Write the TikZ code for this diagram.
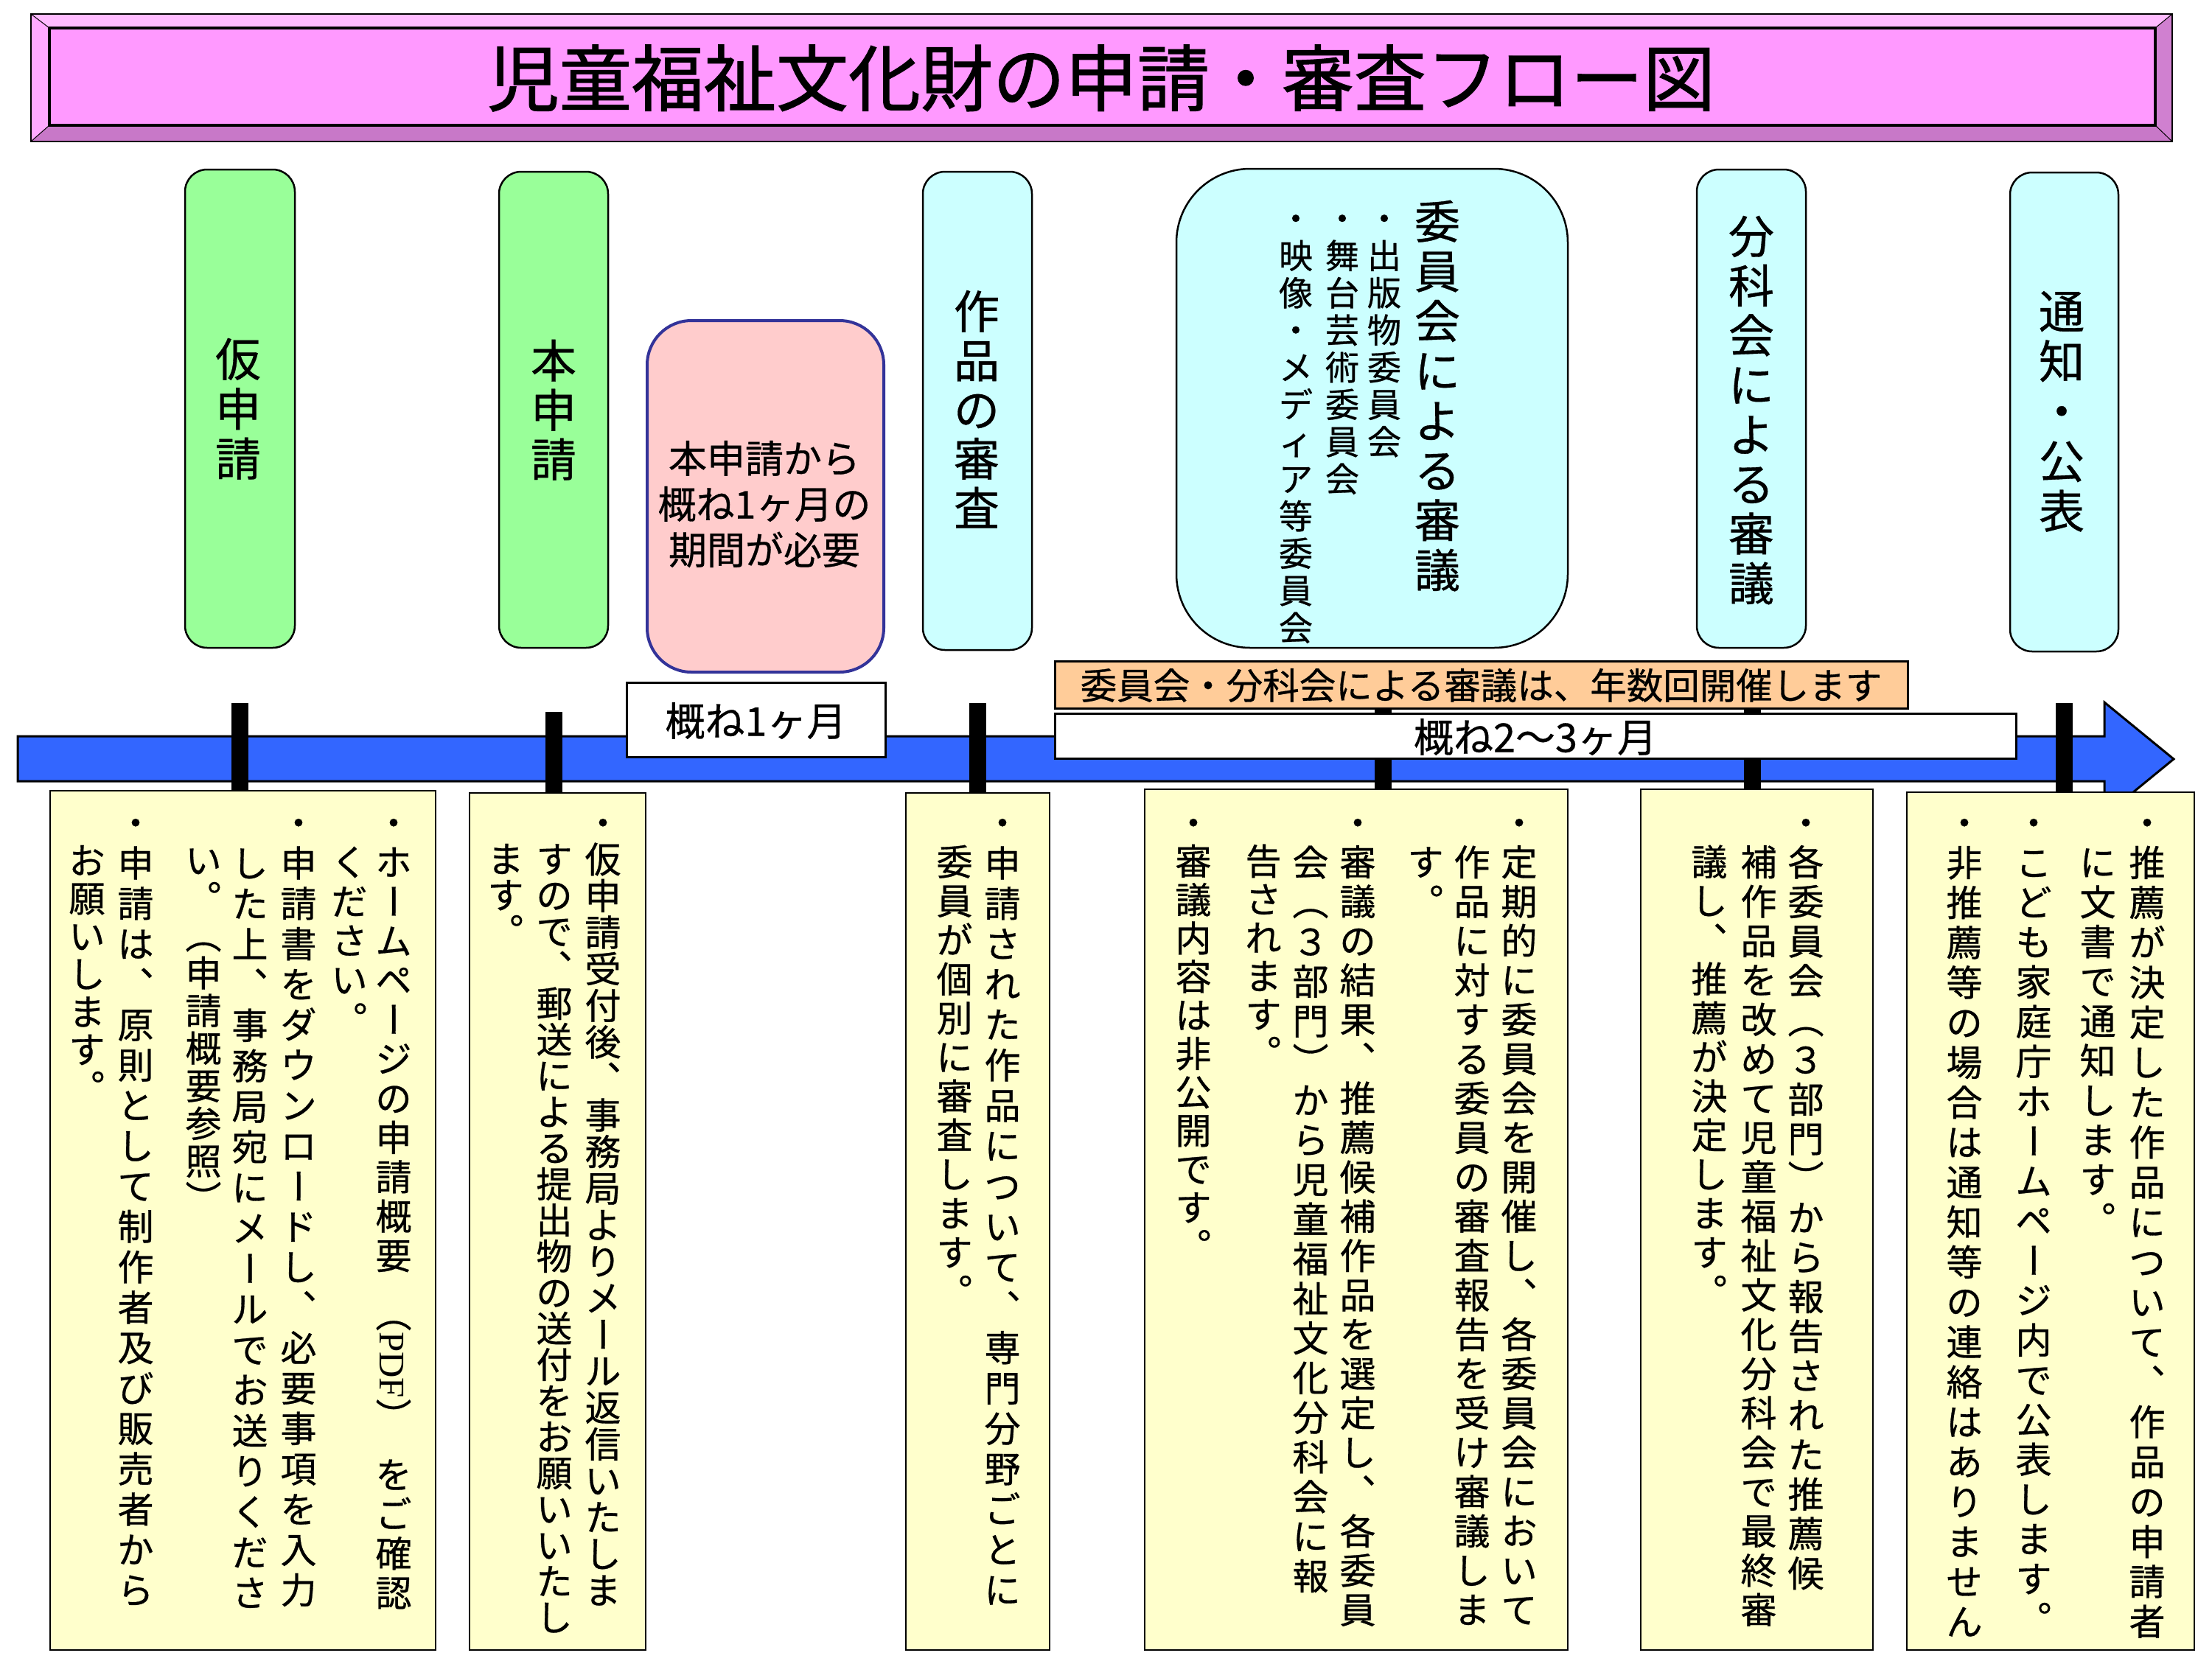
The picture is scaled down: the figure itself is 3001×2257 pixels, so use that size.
\documentclass[tikz,border=0pt]{standalone}
\usepackage{fontspec}
\usepackage{graphicx}
\setmainfont{Noto Sans CJK JP}[FakeBold=0.6]
\newfontfamily\jpt{Noto Sans CJK JP}[FakeBold=1.2]
\newfontfamily\pdff{Liberation Serif}

\definecolor{ctitle}{HTML}{FF99FF}
\definecolor{ctop}{HTML}{FFBBFF}
\definecolor{cleft}{HTML}{FFAAFF}
\definecolor{cright}{HTML}{D080D0}
\definecolor{cbot}{HTML}{C878C8}
\definecolor{cgreen}{HTML}{99FF99}
\definecolor{ccyan}{HTML}{CCFFFF}
\definecolor{cpink}{HTML}{FFCCCC}
\definecolor{cnavy}{HTML}{333399}
\definecolor{cyellow}{HTML}{FFFFCC}
\definecolor{corange}{HTML}{FFCC99}
\definecolor{cblue}{HTML}{3366FF}

\newcommand\vtstrut{\vrule height .88em depth .12em width 0pt}
\newcommand\VL{\rotatebox[origin=c]{-90}{\vtstrut ー}}
\newcommand\VO{\rotatebox[origin=c]{-90}{\vtstrut （}}
\newcommand\VC{\rotatebox[origin=c]{-90}{\vtstrut ）}}
\newcommand\Vc{︑}
\newcommand\Vp{︒}
\newcommand\vb{}
\newcommand\PDFrot{\rotatebox[origin=c]{-90}{\kern 28pt\vtstrut （{\pdff PDF}）\kern 28pt}}

\ExplSyntaxOn
\dim_new:N \l_vt_pitch_dim
\dim_new:N \l_vt_cell_dim
\box_new:N \l_vt_item_box
\cs_new_protected:Npn \vcol #1 #2
  {
    \dim_set:Nn \l_vt_pitch_dim {#1}
    \vbox:n
      {
        \offinterlineskip
        \tl_map_inline:nn {#2}
          {
            \hbox_set:Nn \l_vt_item_box { \vtstrut ##1 }
            \dim_set:Nn \l_vt_cell_dim { \box_ht:N \l_vt_item_box + \box_dp:N \l_vt_item_box }
            \dim_compare:nNnT { \l_vt_cell_dim } < { \l_vt_pitch_dim }
              { \dim_set_eq:NN \l_vt_cell_dim \l_vt_pitch_dim }
            \hbox_to_wd:nn { 1em }
              {
                \hss
                \vbox_to_ht:nn { \l_vt_cell_dim } { \vss \box_use:N \l_vt_item_box \vss }
                \hss
              }
          }
      }
  }
\ExplSyntaxOff

\tikzset{
  vbody/.style={inner sep=0pt, font=\fontsize{49}{55}\selectfont},
  vbig/.style={inner sep=0pt, font=\fontsize{62}{70}\selectfont},
  vsmall/.style={inner sep=0pt, font=\fontsize{46}{52}\selectfont},
  topbox/.style={draw=black, line width=2.5pt, rounded corners=30pt, inner sep=0pt},
  notebox/.style={draw=black, line width=2.5pt, fill=cyellow, inner sep=0pt},
  tlbox/.style={draw=black, line width=3pt, inner sep=0pt},
  tick/.style={fill=black}
}
\newcommand\vnode[6][vbody]{\node[#1,anchor=north] (#2) at (#3,{#4-#5/2}) {\vcol{#5pt}{#6}};}

\begin{document}
\begin{tikzpicture}[x=1pt,y=-1pt]
\useasboundingbox (0,0) rectangle (3001,2257);
\fill[white] (0,0) rectangle (3001,2257);

% ---------- title banner ----------
\fill[ctitle] (42,19) rectangle (2947,192);
\fill[ctop] (42,19) -- (2947,19) -- (2924,38) -- (67,38) -- cycle;
\fill[cbot] (42,192) -- (2947,192) -- (2924,170) -- (67,170) -- cycle;
\fill[cleft] (42,19) -- (67,38) -- (67,170) -- (42,192) -- cycle;
\fill[cright] (2947,19) -- (2924,38) -- (2924,170) -- (2947,192) -- cycle;
\draw[line width=1pt] (42,19) -- (67,38) (2947,19) -- (2924,38) (42,192) -- (67,170) (2947,192) -- (2924,170);
\draw[line width=3.5pt] (67,38) rectangle (2924,170);
\draw[line width=2.5pt] (42,19) rectangle (2947,192);
\node[inner sep=0pt, font=\jpt\fontsize{98}{100}\selectfont] (title) at (1494,106) {児童福祉文化財の申請・審査フロー図};

% ---------- upper stage boxes ----------
\node[topbox, fill=cgreen, minimum width=149pt, minimum height=649pt] (kari) at (325.5,554.5) {};
\node[topbox, fill=cgreen, minimum width=148pt, minimum height=646pt] (hon) at (751,556) {};
\node[draw=cnavy, line width=4pt, fill=cpink, rounded corners=60pt, minimum width=321pt, minimum height=477pt, inner sep=0pt] (wait) at (1038.5,673.5) {};
\node[topbox, fill=ccyan, minimum width=148pt, minimum height=649pt] (saku) at (1326,557.5) {};
\node[topbox, fill=ccyan, rounded corners=100pt, minimum width=531pt, minimum height=650pt] (iin) at (1861.5,554) {};
\node[topbox, fill=ccyan, minimum width=148pt, minimum height=649pt] (bun) at (2376,554.5) {};
\node[topbox, fill=ccyan, minimum width=147pt, minimum height=650pt] (tsu) at (2800.5,559) {};

\vnode[vbig]{kariT}{323}{487}{67.5}{仮申請}
\vnode[vbig]{honT}{751}{489}{67}{本申請}
\node[inner sep=0pt, align=center, font=\fontsize{52}{62}\selectfont] (waitT) at (1037,684) {本申請から\\概ね1ヶ月の\\期間が必要};
\vnode[vbig]{sakuT}{1325}{422}{66.75}{作品の審査}
\vnode[vbig]{iinT}{1950}{300}{67.6}{委員会による審議}
\vnode[vsmall]{sub1}{1878}{296}{50.5}{・出版物委員会}
\vnode[vsmall]{sub2}{1821}{296}{50.5}{・舞台芸術委員会}
\vnode[vsmall]{sub3}{1758}{296}{50.5}{・映像・メディア等委員会}
\vnode[vbig]{bunT}{2376}{320}{67.3}{分科会による審議}
\vnode[vbig]{tsuT}{2797}{422}{67.75}{通知・公表}

% ---------- time line ----------
\draw[fill=cblue, line width=3pt, line join=miter] (24,999) -- (2855,999) -- (2855,953) -- (2949,1030) -- (2855,1107) -- (2855,1060) -- (24,1060) -- cycle;
\foreach \tx/\ty in {325/954,751/966,1326/954,1876/954,2377/954,2800/954}{
  \fill[tick] (\tx-11.5,\ty) rectangle (\tx+11.5,1078);
}
\node[tlbox, fill=white, minimum width=351pt, minimum height=101pt] (m1) at (1025.5,976.5) {};
\node[inner sep=0pt, font=\fontsize{54}{60}\selectfont] (m1T) at (1025.5,978) {概ね1ヶ月};
\node[tlbox, fill=corange, minimum width=1157pt, minimum height=64pt] (freq) at (2009.5,929) {};
\node[inner sep=0pt, font=\fontsize{49.5}{55}\selectfont] (freqT) at (2009.5,930) {委員会・分科会による審議は、年数回開催します};
\node[tlbox, fill=white, minimum width=1304pt, minimum height=61pt] (m23) at (2083,998.5) {};
\node[inner sep=0pt, font=\fontsize{54}{60}\selectfont] (m23T) at (2083,1000) {概ね2〜3ヶ月};

% ---------- note boxes ----------
\node[notebox, minimum width=523pt, minimum height=1166pt] (n1) at (329.5,1656) {};
\node[notebox, minimum width=239pt, minimum height=1163pt] (n2) at (756.5,1657.5) {};
\node[notebox, minimum width=195pt, minimum height=1163pt] (n3) at (1326.5,1657.5) {};
\node[notebox, minimum width=574pt, minimum height=1168pt] (n4) at (1840,1655) {};
\node[notebox, minimum width=315pt, minimum height=1168pt] (n5) at (2383.5,1655) {};
\node[notebox, minimum width=390pt, minimum height=1164pt] (n6) at (2782,1657) {};

% box 1
\vnode{n1a}{534}{1116}{53.4}{・ホ\VL ムペ\VL ジの申請概要\PDFrot をご確認}
\vnode{n1b}{474}{1116}{53.3}{\vb ください\Vp}
\vnode{n1c}{405}{1116}{54.8}{・申請書をダウンロ\VL ドし\Vc 必要事項を入力}
\vnode{n1d}{339}{1116}{55}{\vb した上\Vc 事務局宛にメ\VL ルでお送りくださ}
\vnode{n1e}{276}{1116}{51}{\vb い\Vp\VO 申請概要参照\VC}
\vnode{n1f}{184}{1116}{54.8}{・申請は\Vc 原則として制作者及び販売者から}
\vnode{n1g}{118}{1116}{51.3}{\vb お願いします\Vp}
% box 2
\vnode{n2a}{818}{1116}{49.6}{・仮申請受付後\Vc 事務局よりメ\VL ル返信いたしま}
\vnode{n2b}{752}{1116}{48.5}{\vb すので\Vc 郵送による提出物の送付をお願いいたし}
\vnode{n2c}{686}{1116}{49}{\vb ます\Vp}
% box 3
\vnode{n3a}{1360}{1116}{54.8}{・申請された作品について\Vc 専門分野ごとに}
\vnode{n3b}{1295}{1116}{53}{\vb 委員が個別に審査します\Vp}
% box 4
\vnode{n4a}{2061}{1116}{53.4}{・定期的に委員会を開催し\Vc 各委員会において}
\vnode{n4b}{1997}{1116}{53.4}{\vb 作品に対する委員の審査報告を受け審議しま}
\vnode{n4c}{1934}{1116}{53.4}{\vb す\Vp}
\vnode{n4d}{1842}{1116}{53.4}{・審議の結果\Vc 推薦候補作品を選定し\Vc 各委員}
\vnode{n4e}{1778}{1116}{53.8}{\vb 会\VO ３部門\VC から児童福祉文化分科会に報}
\vnode{n4f}{1714}{1116}{52}{\vb 告されます\Vp}
\vnode{n4g}{1619}{1116}{52.2}{・審議内容は非公開です\Vp}
% box 5
\vnode{n5a}{2450}{1116}{53.6}{・各委員会\VO ３部門\VC から報告された推薦候}
\vnode{n5b}{2386}{1116}{53.4}{\vb 補作品を改めて児童福祉文化分科会で最終審}
\vnode{n5c}{2319}{1116}{53}{\vb 議し\Vc 推薦が決定します\Vp}
% box 6
\vnode{n6a}{2913}{1116}{54.2}{・推薦が決定した作品について\Vc 作品の申請者}
\vnode{n6b}{2846}{1116}{53.8}{\vb に文書で通知します\Vp}
\vnode{n6c}{2759}{1116}{54}{・こども家庭庁ホ\VL ムペ\VL ジ内で公表します\Vp}
\vnode{n6d}{2665}{1116}{54.2}{・非推薦等の場合は通知等の連絡はありません}
\end{tikzpicture}
\end{document}
